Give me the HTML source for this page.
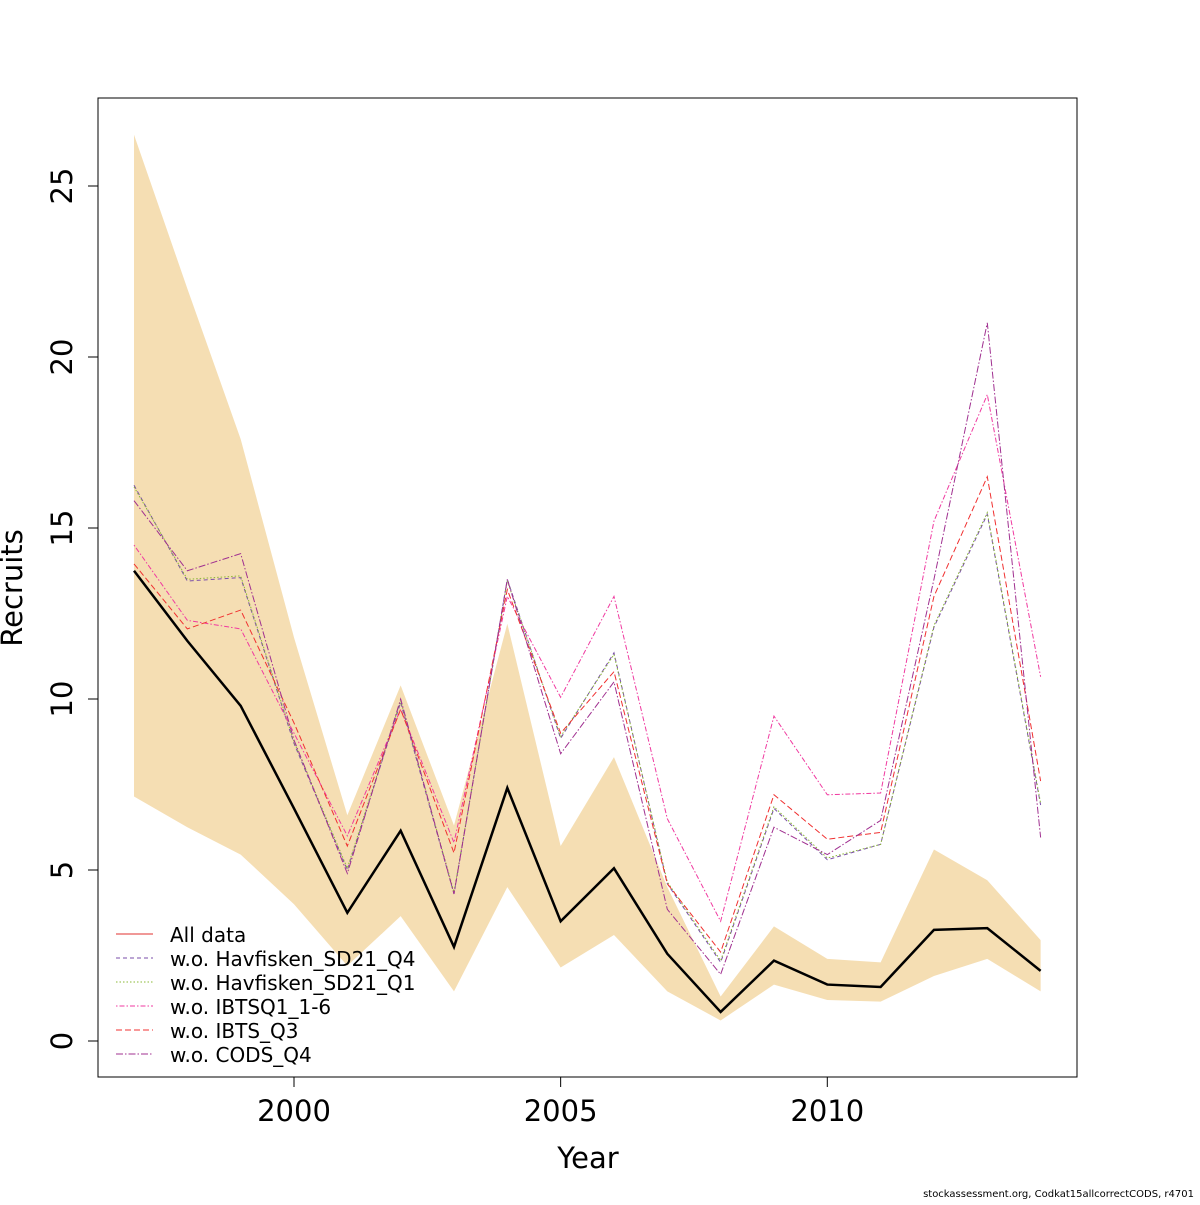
<!DOCTYPE html>
<html><head><meta charset="utf-8"><style>
body{margin:0;background:#fff}
svg text{font-family:"DejaVu Sans","Liberation Sans",sans-serif;fill:#000}
</style></head><body>
<svg id="chart" width="1200" height="1200" viewBox="0 0 1200 1200" xmlns="http://www.w3.org/2000/svg">
<g id="band"></g>
<g id="lines"></g>
<rect x="98" y="98" width="979" height="979" fill="none" stroke="#000" stroke-width="1"/>
<g id="axes"></g>
<text x="588" y="1168" font-size="29" text-anchor="middle">Year</text>
<text x="22" y="588" font-size="29" text-anchor="middle" transform="rotate(-90 22 588)">Recruits</text>
<text x="1194" y="1197" font-size="10" text-anchor="end">stockassessment.org, Codkat15allcorrectCODS, r4701</text>
<g id="legend"></g>
</svg>
<script>
const years=[1997,1998,1999,2000,2001,2002,2003,2004,2005,2006,2007,2008,2009,2010,2011,2012,2013,2014];
const allData=[13.75,11.7,9.8,6.8,3.75,6.15,2.75,7.4,3.5,5.05,2.55,0.85,2.35,1.65,1.58,3.25,3.3,2.05];
const upper=[26.5,22.0,17.6,11.8,6.6,10.4,6.3,12.2,5.7,8.3,4.5,1.3,3.35,2.4,2.3,5.6,4.7,2.95];
const lower=[7.15,6.25,5.45,4.0,2.2,3.65,1.45,4.5,2.15,3.1,1.45,0.6,1.65,1.2,1.15,1.9,2.4,1.45];
const woHavQ4=[16.25,13.45,13.55,8.7,5.0,9.9,4.3,13.5,8.85,11.35,4.6,2.3,6.8,5.3,5.75,12.1,15.4,6.9];
const woHavQ1=[16.2,13.5,13.6,8.75,5.05,9.95,4.35,13.45,8.9,11.3,4.65,2.35,6.85,5.35,5.75,12.15,15.45,6.95];
const woIBTSQ1=[14.5,12.3,12.05,9.0,6.0,9.7,5.8,13.0,10.05,13.0,6.5,3.5,9.5,7.2,7.25,15.2,18.9,10.65];
const woIBTSQ3=[13.95,12.05,12.6,9.3,5.7,9.7,5.5,13.2,9.0,10.8,4.6,2.6,7.2,5.9,6.1,13.0,16.5,7.6];
const woCODS=[15.8,13.75,14.25,8.8,4.9,10.0,4.3,13.5,8.4,10.5,3.85,1.95,6.25,5.45,6.45,13.5,21.0,5.95];
const xTicks=[2000,2005,2010];
const yTicks=[0,5,10,15,20,25];
const legendLabels=["All data","w.o. Havfisken_SD21_Q4","w.o. Havfisken_SD21_Q1","w.o. IBTSQ1_1-6","w.o. IBTS_Q3","w.o. CODS_Q4"];

const NS="http://www.w3.org/2000/svg";
const X=y=>294+(y-2000)*53.33;
const Y=v=>1041-v*34.2;
function mk(tag,attrs,parent){const e=document.createElementNS(NS,tag);for(const k in attrs)e.setAttribute(k,attrs[k]);parent.appendChild(e);return e;}

const band=document.getElementById('band');
let d=years.map((y,i)=>(i?'L':'M')+X(y)+' '+Y(upper[i])).join(' ');
for(let i=years.length-1;i>=0;i--)d+=' L'+X(years[i])+' '+Y(lower[i]);
const bp=mk('path',{d:d+'Z',fill:'#f5deb3',stroke:'none'},band);



const styles=[
 {data:allData,color:'#e0302f',dash:'',name:'line-all-data'},
 {data:woHavQ4,color:'#7a4ea8',dash:'4 3',name:'line-wo-havfisken-q4'},
 {data:woHavQ1,color:'#8ab835',dash:'1.5 2',name:'line-wo-havfisken-q1'},
 {data:woIBTSQ1,color:'#f03aa0',dash:'1.5 2 5 2',name:'line-wo-ibtsq1'},
 {data:woIBTSQ3,color:'#f03030',dash:'6 3',name:'line-wo-ibts-q3'},
 {data:woCODS,color:'#a03090',dash:'7 2 1.5 2',name:'line-wo-cods-q4'}
];
const lines=document.getElementById('lines');
styles.slice(1).forEach(s=>{
 const p=mk('polyline',{points:years.map((y,i)=>X(y)+','+Y(s.data[i])).join(' '),fill:'none',stroke:s.color,'stroke-width':1,'stroke-dasharray':s.dash},lines);
 
 
});
const est=mk('polyline',{points:years.map((y,i)=>X(y)+','+Y(allData[i])).join(' '),fill:'none',stroke:'#000','stroke-width':2.5},lines);



const axes=document.getElementById('axes');
mk('line',{x1:X(2000),x2:X(2010),y1:1077,y2:1077,stroke:'#000'},axes);
xTicks.forEach(t=>{
 mk('line',{x1:X(t),x2:X(t),y1:1077,y2:1087,stroke:'#000'},axes);
 const tx=mk('text',{x:X(t),y:1121,'font-size':29,'text-anchor':'middle'},axes);
 tx.textContent=t;
 
 
});
mk('line',{x1:98,x2:98,y1:Y(0),y2:Y(25),stroke:'#000'},axes);
yTicks.forEach(t=>{
 mk('line',{x1:88,x2:98,y1:Y(t),y2:Y(t),stroke:'#000'},axes);
 const tx=mk('text',{x:72,y:Y(t),'font-size':29,'text-anchor':'middle',transform:'rotate(-90 72 '+Y(t)+')'},axes);
 tx.textContent=t;
 
 
});

const legend=document.getElementById('legend');
legendLabels.forEach((l,i)=>{
 const y=934+i*24;
 const s=styles[i];
 mk('line',{x1:116,x2:153,y1:y,y2:y,stroke:s.color,'stroke-width':1,'stroke-dasharray':s.dash},legend);
 const tx=mk('text',{x:170,y:y+8,'font-size':20},legend);
 tx.textContent=l;
 
 
});
</script>
</body></html>
